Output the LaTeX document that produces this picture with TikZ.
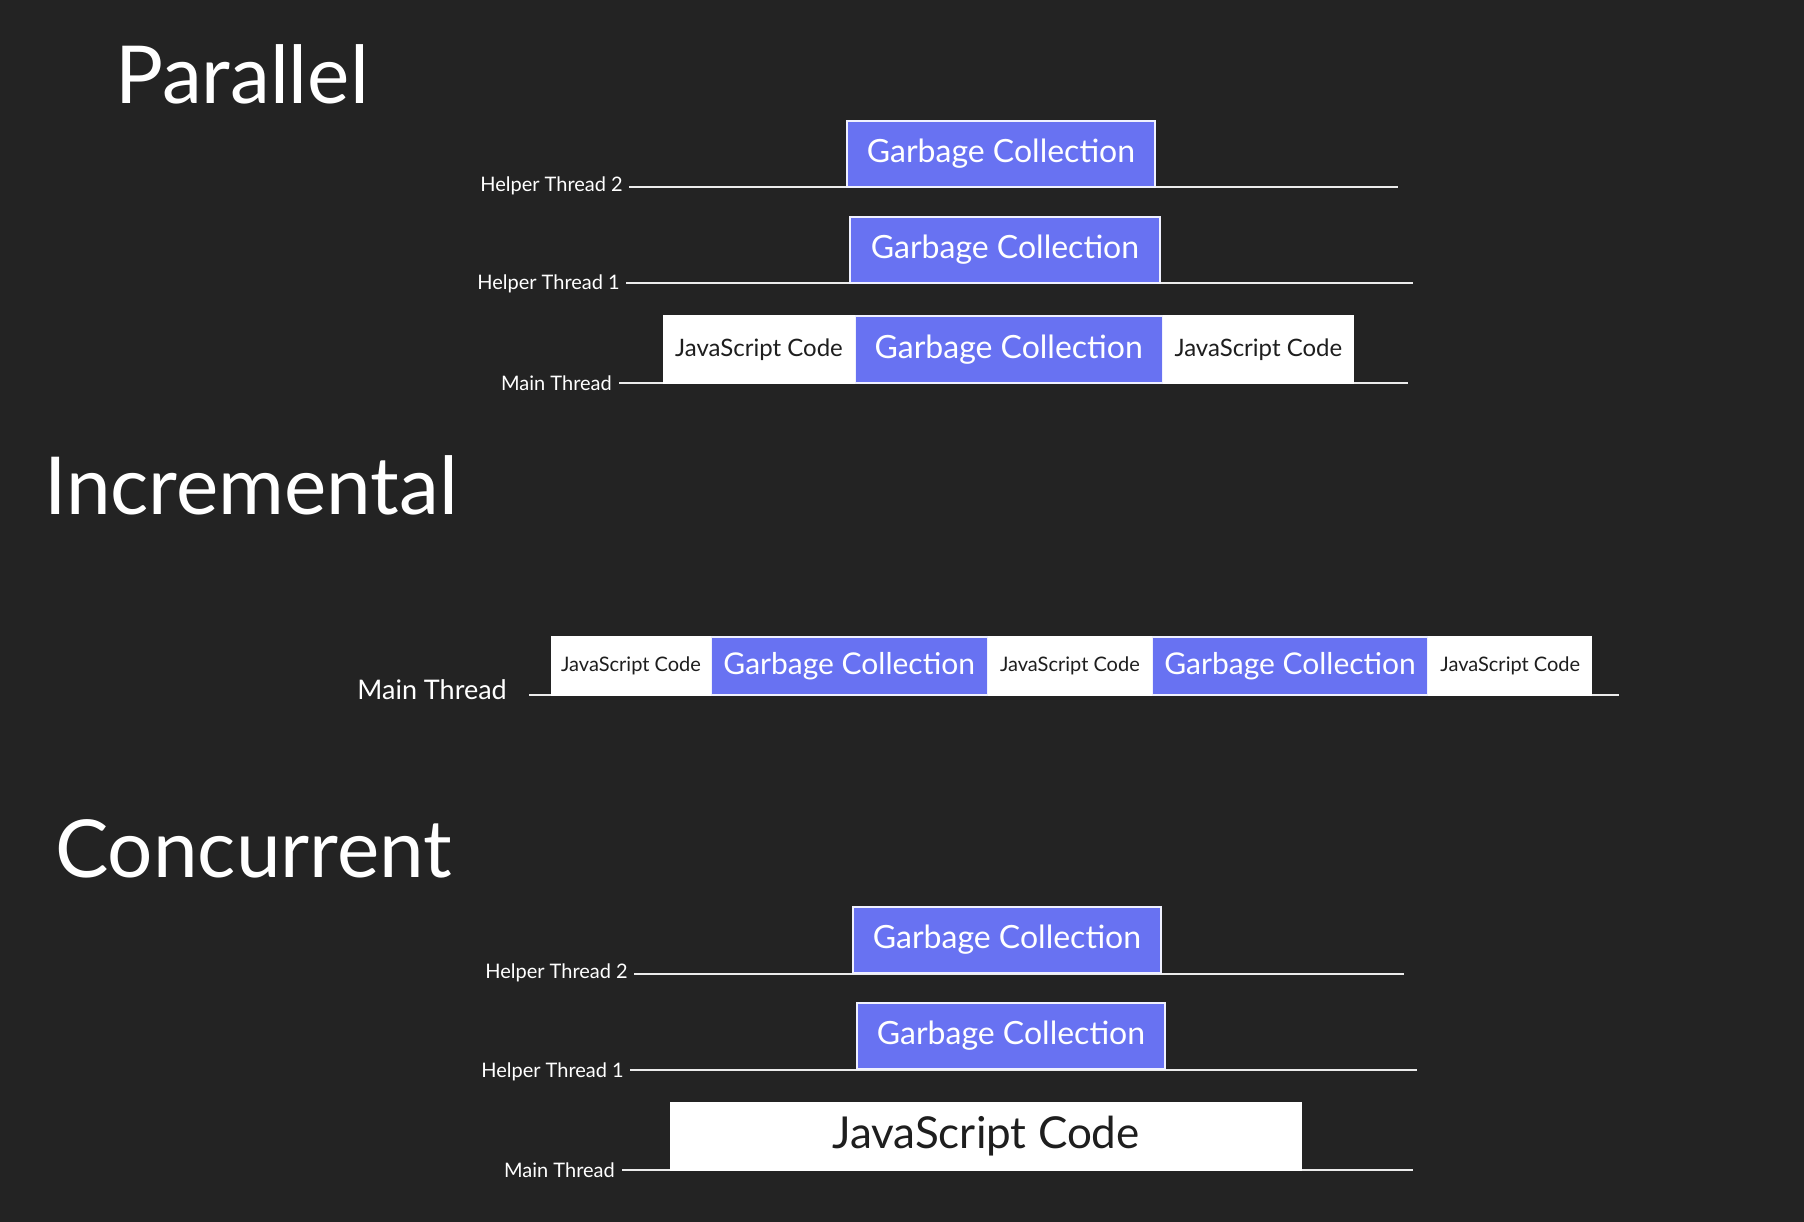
\documentclass[tikz,border=0pt]{standalone}
\usepackage{fontspec}
\setmainfont{Lato}
\usetikzlibrary{positioning}
\definecolor{bgdark}{HTML}{232323}
\definecolor{gcblue}{HTML}{6872F2}
\definecolor{jsink}{HTML}{1E1E1E}

\begin{document}
\begin{tikzpicture}[x=1pt,y=-1pt,
  title/.style={text=white,anchor=base west,inner sep=0,font=\fontsize{80}{90}\selectfont},
  gcbox/.style={draw=white!90!gcblue,line width=1.2pt,fill=gcblue,text=white,inner sep=0,minimum height=66pt},
  jsbox/.style={draw=white,line width=1.2pt,fill=white,text=jsink,inner sep=0,minimum height=66pt},
  thread/.style={draw=white!92!black,line width=1.6pt},
  lbl/.style={text=white,anchor=base east,inner sep=0,yshift=-7pt,font=\fontsize{20}{24}\selectfont}]
\fill[bgdark] (0,0) rectangle (1804,1222);
\useasboundingbox (0,0) rectangle (1804,1222);

% Parallel
\node[title] (tpar) at (115,104) {Parallel};
\coordinate (p2s) at (629,187); \coordinate (p2e) at (1398,187);
\coordinate (p1s) at (626,283); \coordinate (p1e) at (1413,283);
\coordinate (pms) at (619,383); \coordinate (pme) at (1408,383);
\draw[thread] (p2s) -- (p2e);
\draw[thread] (p1s) -- (p1e);
\draw[thread] (pms) -- (pme);
\node[lbl,left=6pt of p2s,anchor=base east,yshift=2pt] (lp2) {Helper Thread 2};
\node[lbl,left=6pt of p1s,anchor=base east] (lp1) {Helper Thread 1};
\node[lbl,left=7pt of pms,anchor=base east] (lpm) {Main Thread};
\node[gcbox,minimum width=308pt,font=\fontsize{32}{36}\selectfont] (pgc2) at (1001,154) {Garbage Collection};
\node[gcbox,minimum width=310pt,font=\fontsize{32}{36}\selectfont] (pgc1) at (1005,250) {Garbage Collection};
\node[jsbox,minimum width=190pt,minimum height=67pt,font=\fontsize{24}{28}\selectfont] (pjs1) at (759,349.5) {JavaScript Code};
\node[gcbox,minimum width=307pt,minimum height=67pt,font=\fontsize{32}{36}\selectfont,right=0pt of pjs1] (pgc) {Garbage Collection};
\node[jsbox,minimum width=190pt,minimum height=67pt,font=\fontsize{24}{28}\selectfont,right=0pt of pgc] (pjs2) {JavaScript Code};

% Incremental
\node[title] (tinc) at (44,514) {Incremental};
\coordinate (ims) at (529,695); \coordinate (ime) at (1619,695);
\draw[thread] (ims) -- (ime);
\node[lbl,font=\fontsize{27}{32}\selectfont,left=22pt of ims,anchor=base east,yshift=3pt] (lim) {Main Thread};
\node[jsbox,minimum width=158pt,minimum height=58pt,font=\fontsize{20}{24}\selectfont] (ijs1) at (631,666) {JavaScript Code};
\node[gcbox,minimum width=276pt,minimum height=58pt,font=\fontsize{30}{34}\selectfont,right=0pt of ijs1] (igc1) {Garbage Collection};
\node[jsbox,minimum width=163pt,minimum height=58pt,font=\fontsize{20}{24}\selectfont,right=0pt of igc1] (ijs2) {JavaScript Code};
\node[gcbox,minimum width=275pt,minimum height=58pt,font=\fontsize{30}{34}\selectfont,right=0pt of ijs2] (igc2) {Garbage Collection};
\node[jsbox,minimum width=163pt,minimum height=58pt,font=\fontsize{20}{24}\selectfont,right=0pt of igc2] (ijs3) {JavaScript Code};

% Concurrent
\node[title] (tcon) at (55,877) {Concurrent};
\coordinate (c2s) at (634,974); \coordinate (c2e) at (1404,974);
\coordinate (c1s) at (630,1070); \coordinate (c1e) at (1417,1070);
\coordinate (cms) at (622,1170); \coordinate (cme) at (1413,1170);
\draw[thread] (c2s) -- (c2e);
\draw[thread] (c1s) -- (c1e);
\draw[thread] (cms) -- (cme);
\node[lbl,left=6pt of c2s,anchor=base east,yshift=3pt] (lc2) {Helper Thread 2};
\node[lbl,left=6pt of c1s,anchor=base east] (lc1) {Helper Thread 1};
\node[lbl,left=7pt of cms,anchor=base east] (lcm) {Main Thread};
\node[gcbox,minimum width=308pt,font=\fontsize{32}{36}\selectfont] (cgc2) at (1007,940) {Garbage Collection};
\node[gcbox,minimum width=308pt,font=\fontsize{32}{36}\selectfont] (cgc1) at (1011,1036) {Garbage Collection};
\node[jsbox,minimum width=630pt,minimum height=67pt,font=\fontsize{44}{50}\selectfont] (cjs) at (986,1136.5) {JavaScript Code};
\end{tikzpicture}
\end{document}
